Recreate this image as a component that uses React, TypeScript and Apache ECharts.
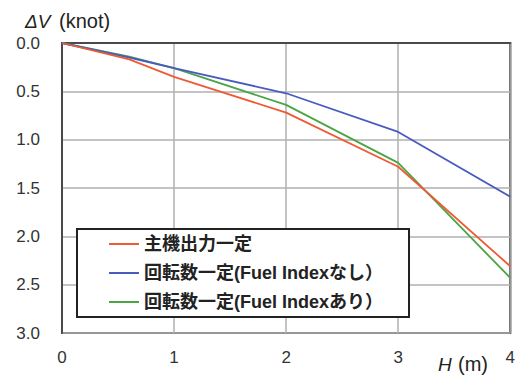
import React, { useEffect, useRef } from "react";
import * as echarts from "echarts";

const seriesNames = ["主機出力一定", "回転数一定(Fuel Indexなし）", "回転数一定(Fuel Indexあり）"];
const seriesColors = ["#ee5a36", "#4a5bbf", "#4ba544"];
const redData: [number, number][] = [[0, 0], [0.6, 0.17], [1, 0.35], [2, 0.72], [3, 1.28], [4, 2.31]];
const blueData: [number, number][] = [[0, 0], [0.6, 0.15], [1, 0.26], [2, 0.52], [3, 0.92], [4, 1.59]];
const greenData: [number, number][] = [[0, 0], [0.6, 0.14], [1, 0.26], [2, 0.64], [3, 1.24], [4, 2.43]];
const yTicks = [0, 0.5, 1.0, 1.5, 2.0, 2.5, 3.0];
const xTicks = [0, 1, 2, 3, 4];

const FONT = "'Liberation Sans', Arial, 'Noto Sans CJK JP', sans-serif";

export default function App() {
  const ref = useRef<HTMLDivElement>(null);
  useEffect(() => {
    const chart = echarts.init(ref.current!, null, { renderer: "svg" });
    const datasets = [redData, blueData, greenData];
    chart.setOption({
      animation: false,
      backgroundColor: "#ffffff",
      textStyle: { fontFamily: FONT },
      grid: {
        left: 62, right: 6, top: 43, bottom: 43,
        show: true, borderColor: "#4a4a4a", borderWidth: 2,
      },
      xAxis: {
        type: "value", min: xTicks[0], max: xTicks[xTicks.length - 1], interval: 1,
        axisLine: { show: true, lineStyle: { color: "#4a4a4a", width: 2 } },
        axisTick: { show: false },
        splitLine: { show: true, lineStyle: { color: "#b0b0b0", width: 1.5 } },
        axisLabel: { color: "#333", fontSize: 17, margin: 16, fontFamily: FONT },
      },
      yAxis: {
        type: "value", inverse: true, min: yTicks[0], max: yTicks[yTicks.length - 1], interval: 0.5,
        axisLine: { show: true, lineStyle: { color: "#4a4a4a", width: 2 } },
        axisTick: { show: false },
        splitLine: { show: true, lineStyle: { color: "#b0b0b0", width: 1.5 } },
        axisLabel: { color: "#333", fontSize: 17, margin: 22, fontFamily: FONT, formatter: (v: number) => v.toFixed(1) },
      },
      legend: {
        orient: "vertical",
        left: 77, top: 229,
        data: seriesNames.map((n) => ({ name: n, icon: "rect" })),
        itemWidth: 30, itemHeight: 2,
        itemGap: 11,
        padding: [6, 26, 6, 32],
        borderColor: "#222", borderWidth: 2, backgroundColor: "#fff",
        textStyle: { fontSize: 18, color: "#222", fontFamily: FONT, fontWeight: "bold" },
      },
      series: seriesNames.map((n, i) => ({
        name: n, type: "line", data: datasets[i], symbol: "none",
        lineStyle: { color: seriesColors[i], width: 1.8 }, itemStyle: { color: seriesColors[i] },
        z: 3 - i,
      })),
      graphic: [
        { type: "text", x: 25, y: 12, z: 10, style: { text: "ΔV", fill: "#222", font: `italic 19px ${FONT}` } },
        { type: "text", x: 59, y: 11, z: 10, style: { text: "(knot)", fill: "#222", font: `20px ${FONT}` } },
        { type: "text", x: 438, y: 355, z: 10, style: { text: "H", fill: "#222", font: `italic 19px ${FONT}` } },
        { type: "text", x: 458, y: 354, z: 10, style: { text: "(m)", fill: "#222", font: `20px ${FONT}` } },
      ],
    });
    return () => chart.dispose();
  }, []);
  return <div ref={ref} style={{ width: 518, height: 376, position: "absolute", left: 0, top: 0 }} />;
}
